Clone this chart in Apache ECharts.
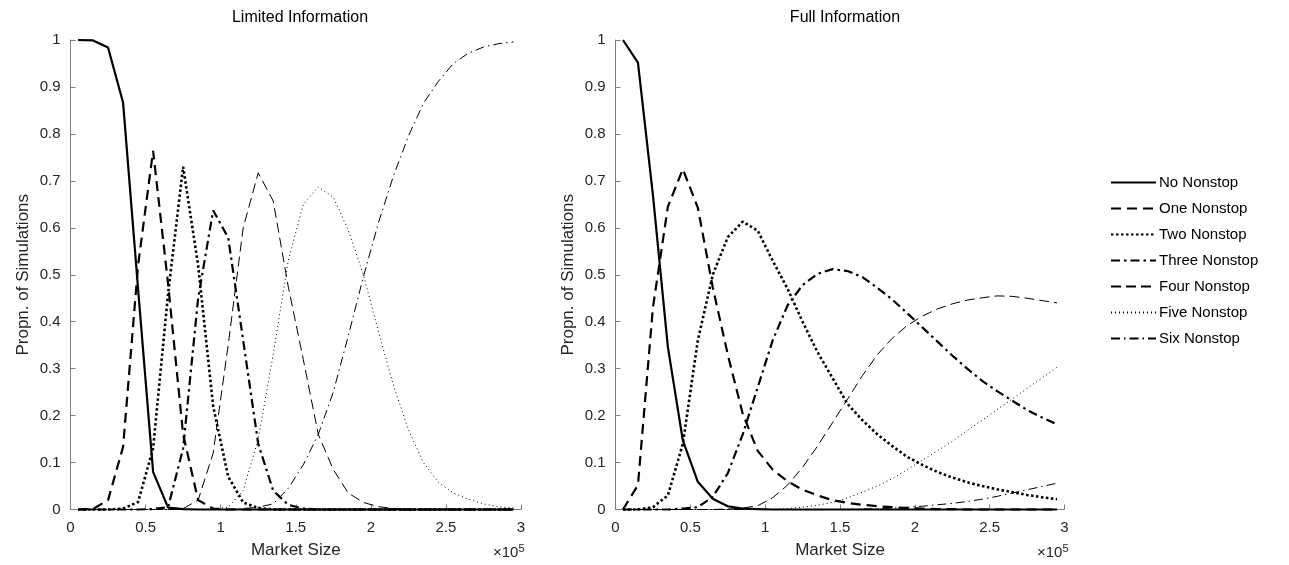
<!DOCTYPE html>
<html>
<head>
<meta charset="utf-8">
<script src="https://cdn.jsdelivr.net/npm/echarts@6/dist/echarts.min.js"></script>
<style>html,body{margin:0;padding:0;background:#fff}#c{width:1289px;height:565px}</style>
</head>
<body>
<div id="c"></div>
<script>
const marketSize = [0.05,0.15,0.25,0.35,0.45,0.55,0.65,0.75,0.85,0.95,1.05,1.15,1.25,1.35,1.45,1.55,1.65,1.75,1.85,1.95,2.05,2.15,2.25,2.35,2.45,2.55,2.65,2.75,2.85,2.95];
const seriesNames = ['No Nonstop','One Nonstop','Two Nonstop','Three Nonstop','Four Nonstop','Five Nonstop','Six Nonstop'];
const xTicks = [0,0.5,1,1.5,2,2.5,3];

// Limited Information
const noneLim  = [1.0,0.999,0.984,0.867,0.47,0.08,0.004,0.001,0,0,0,0,0,0,0,0,0,0,0,0,0,0,0,0,0,0,0,0,0,0];
const oneLim   = [0,0.001,0.02,0.133,0.52,0.764,0.48,0.16,0.02,0.002,0,0,0,0,0,0,0,0,0,0,0,0,0,0,0,0,0,0,0,0];
const twoLim   = [0,0,0,0.002,0.016,0.13,0.46,0.73,0.52,0.22,0.07,0.015,0.003,0,0,0,0,0,0,0,0,0,0,0,0,0,0,0,0,0];
const threeLim = [0,0,0,0,0,0.001,0.005,0.13,0.45,0.637,0.579,0.36,0.14,0.04,0.01,0.002,0,0,0,0,0,0,0,0,0,0,0,0,0,0];
const fourLim  = [0,0,0,0,0,0,0,0.002,0.02,0.12,0.35,0.6,0.717,0.657,0.475,0.32,0.16,0.085,0.035,0.015,0.006,0.002,0,0,0,0,0,0,0,0];
const fiveLim  = [0,0,0,0,0,0,0,0,0,0.001,0.005,0.04,0.15,0.33,0.53,0.65,0.687,0.665,0.595,0.5,0.38,0.265,0.17,0.1,0.058,0.035,0.022,0.012,0.006,0.003];
const sixLim   = [0,0,0,0,0,0,0,0,0,0,0,0.002,0.005,0.012,0.045,0.095,0.16,0.25,0.37,0.495,0.61,0.71,0.795,0.865,0.912,0.95,0.972,0.985,0.992,0.996];

// Full Information
const noneFull  = [1.0,0.952,0.67,0.346,0.147,0.059,0.023,0.007,0.002,0.001,0,0,0,0,0,0,0,0,0,0,0,0,0,0,0,0,0,0,0,0];
const oneFull   = [0,0.052,0.43,0.645,0.725,0.643,0.473,0.33,0.204,0.125,0.085,0.06,0.042,0.03,0.02,0.014,0.01,0.007,0.005,0.003,0.002,0.001,0.001,0,0,0,0,0,0,0];
const twoFull   = [0,0,0.005,0.03,0.14,0.36,0.5,0.58,0.613,0.594,0.53,0.47,0.40,0.335,0.28,0.225,0.19,0.16,0.135,0.112,0.095,0.08,0.068,0.058,0.05,0.043,0.037,0.031,0.026,0.022];
const threeFull = [0,0,0,0,0.002,0.005,0.027,0.077,0.16,0.26,0.36,0.435,0.478,0.502,0.512,0.508,0.495,0.472,0.447,0.418,0.388,0.358,0.328,0.3,0.274,0.252,0.232,0.212,0.196,0.181];
const fourFull  = [0,0,0,0,0,0,0,0.001,0.003,0.008,0.025,0.052,0.09,0.135,0.185,0.235,0.285,0.33,0.365,0.392,0.412,0.427,0.438,0.446,0.451,0.455,0.454,0.45,0.445,0.44];
const fiveFull  = [0,0,0,0,0,0,0,0,0,0,0,0.002,0.005,0.009,0.015,0.025,0.037,0.05,0.066,0.085,0.105,0.125,0.145,0.168,0.19,0.213,0.235,0.258,0.28,0.303];
const sixFull   = [0,0,0,0,0,0,0,0,0,0,0,0,0,0,0,0,0.001,0.002,0.003,0.005,0.007,0.01,0.013,0.017,0.022,0.028,0.035,0.042,0.049,0.056];

const limited = [noneLim, oneLim, twoLim, threeLim, fourLim, fiveLim, sixLim];
const full = [noneFull, oneFull, twoFull, threeFull, fourFull, fiveFull, sixFull];

const styles = [
  {width: 2.2, type: 'solid'},
  {width: 2.2, type: [10, 6]},
  {width: 2.6, type: [2.5, 2.5]},
  {width: 2.2, type: [9, 4, 2.5, 4]},
  {width: 1, type: [10, 5]},
  {width: 1, type: [1, 3]},
  {width: 1, type: [9, 4, 1.5, 4]}
];

const FONT = 'Liberation Sans, Arial, sans-serif';
const axisGray = '#7f7f7f';
const textGray = '#262626';

function xAxis(gi) {
  return {
    gridIndex: gi, type: 'value', min: 0, max: 3, interval: 0.5,
    name: 'Market Size', nameLocation: 'middle', nameGap: 32, nameMoveOverlap: false,
    nameTextStyle: {fontSize: 17, color: textGray, fontFamily: FONT},
    axisLine: {show: true, lineStyle: {color: axisGray, width: 1}},
    axisTick: {show: true, inside: true, length: 5, lineStyle: {color: axisGray}},
    axisLabel: {fontSize: 15, color: textGray, fontFamily: FONT, margin: 11,
      formatter: v => (xTicks.includes(v) ? String(v) : '')},
    splitLine: {show: false}
  };
}
function yAxis(gi) {
  return {
    gridIndex: gi, type: 'value', min: 0, max: 1, interval: 0.1,
    name: 'Propn. of Simulations', nameLocation: 'middle', nameGap: 39, nameMoveOverlap: false,
    nameTextStyle: {fontSize: 17, color: textGray, fontFamily: FONT},
    axisLine: {show: true, lineStyle: {color: axisGray, width: 1}},
    axisTick: {show: true, inside: true, length: 5, lineStyle: {color: axisGray}},
    axisLabel: {fontSize: 15, color: textGray, fontFamily: FONT, margin: 10,
      formatter: v => String(Math.round(v * 10) / 10)},
    splitLine: {show: false}
  };
}

const series = [];
[limited, full].forEach((group, gi) => {
  group.forEach((vals, i) => {
    series.push({
      name: seriesNames[i], type: 'line', xAxisIndex: gi, yAxisIndex: gi,
      data: marketSize.map((x, k) => [x, vals[k]]),
      symbol: 'none', smooth: false, clip: false,
      lineStyle: {color: '#000', width: styles[i].width, type: styles[i].type},
      itemStyle: {color: '#000'},
      emphasis: {disabled: true},
      z: 10 - i
    });
  });
});

const chart = echarts.init(document.getElementById('c'), null, {renderer: 'canvas'});
chart.setOption({
  animation: false,
  backgroundColor: '#fff',
  textStyle: {fontFamily: FONT},
  title: [
    {text: 'Limited Information', left: 295, top: 5, textAlign: 'center',
     textStyle: {fontSize: 16, fontWeight: 'normal', color: '#000', fontFamily: FONT}},
    {text: 'Full Information', left: 840, top: 5, textAlign: 'center',
     textStyle: {fontSize: 16, fontWeight: 'normal', color: '#000', fontFamily: FONT}}
  ],
  legend: {
    orient: 'vertical', left: 1105, top: 170, itemWidth: 45, itemHeight: 14, itemGap: 11,
    data: seriesNames,
    itemStyle: {opacity: 0, borderWidth: 0},
    textStyle: {fontSize: 15, color: '#000', fontFamily: FONT, padding: [0, 0, 0, -2]},
    selectedMode: false
  },
  grid: [
    {left: 70.5, right: 768, top: 40, bottom: 55.5, containLabel: false},
    {left: 615.5, right: 224.5, top: 40, bottom: 55.5, containLabel: false}
  ],
  xAxis: [xAxis(0), xAxis(1)],
  yAxis: [yAxis(0), yAxis(1)],
  series: series,
  graphic: [
    {type: 'text', left: 493, top: 543, style: {text: '{a|×10}{b|5}', rich: {a: {fontSize: 15, fill: textGray, fontFamily: FONT}, b: {fontSize: 11, fill: textGray, fontFamily: FONT, verticalAlign: 'top', padding: [0, 0, 8, 0]}}}},
    {type: 'text', left: 1037, top: 543, style: {text: '{a|×10}{b|5}', rich: {a: {fontSize: 15, fill: textGray, fontFamily: FONT}, b: {fontSize: 11, fill: textGray, fontFamily: FONT, verticalAlign: 'top', padding: [0, 0, 8, 0]}}}}
  ]
});
</script>
</body>
</html>
